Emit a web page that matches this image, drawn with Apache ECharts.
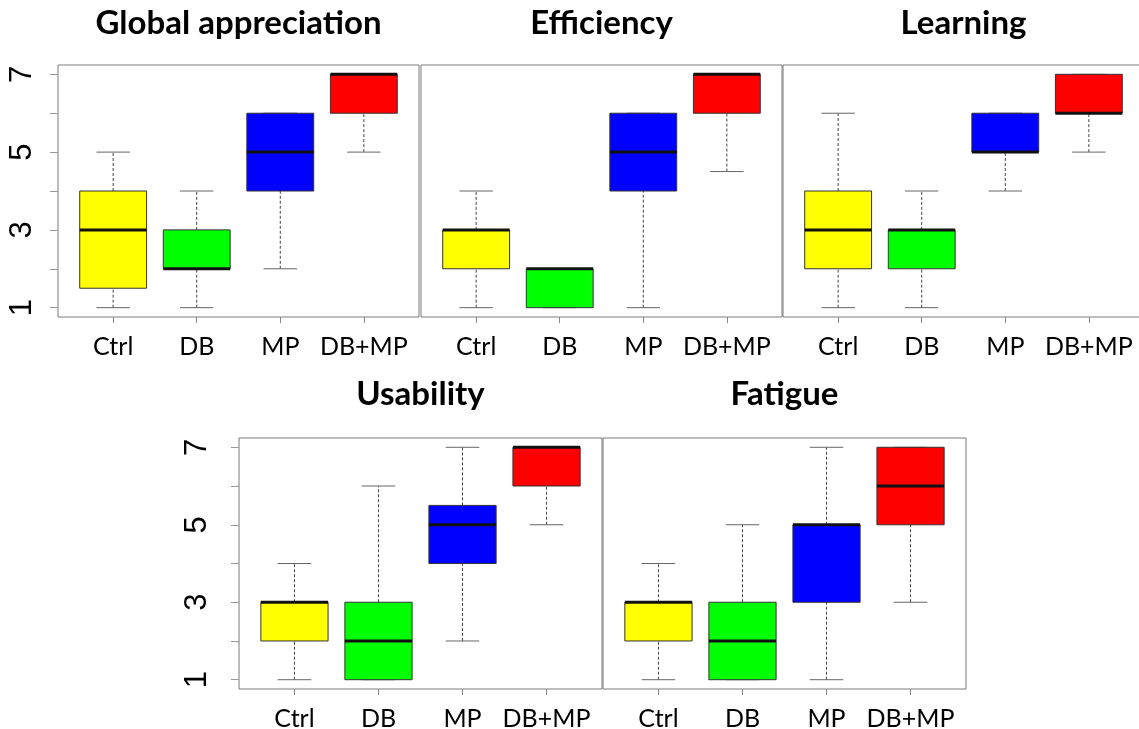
<!DOCTYPE html>
<html>
<head>
<meta charset="utf-8">
<script src="https://cdn.jsdelivr.net/npm/echarts@6/dist/echarts.min.js"></script>
<style>
html, body { margin: 0; padding: 0; background: #fff; }
#chart { width: 1139px; height: 729px; }
</style>
</head>
<body>
<div id="chart"></div>
<script>
// groups on the x axis and their box colours
var groups = ['Ctrl', 'DB', 'MP', 'DB+MP'];
var boxColors = ['#ffff00', '#00ff00', '#0000ff', '#ff0000'];
var titles = ['Global appreciation', 'Efficiency', 'Learning', 'Usability', 'Fatigue'];

// each row: [min, q1, median, q3, max] for Ctrl, DB, MP, DB+MP
var globalAppreciation = [[1, 1.5, 3, 4, 5], [1, 2, 2, 3, 4], [2, 4, 5, 6, 6], [5, 6, 7, 7, 7]];
var efficiency = [[1, 2, 3, 3, 4], [1, 1, 2, 2, 2], [1, 4, 5, 6, 6], [4.5, 6, 7, 7, 7]];
var learning = [[1, 2, 3, 4, 6], [1, 2, 3, 3, 4], [4, 5, 5, 6, 6], [5, 6, 6, 7, 7]];
var usability = [[1, 2, 3, 3, 4], [1, 1, 2, 3, 6], [2, 4, 5, 5.5, 7], [5, 6, 7, 7, 7]];
var fatigue = [[1, 2, 3, 3, 4], [1, 1, 2, 3, 5], [1, 3, 5, 5, 7], [3, 5, 6, 7, 7]];

// axis ticks
var xTicks = [1, 2, 3, 4];
var yTicks = [1, 2, 3, 4, 5, 6, 7];
var yLabels = [1, 3, 5, 7];

var panelData = [globalAppreciation, efficiency, learning, usability, fatigue];

// where each panel sits
var panels = [
    { left: 58, top: 65, width: 361, height: 252, labels: true, margin: 20, titleTop: 7 },
    { left: 421, top: 65, width: 361, height: 252, labels: false, margin: 20, titleTop: 7 },
    { left: 783, top: 65, width: 361, height: 252, labels: false, margin: 20, titleTop: 7 },
    { left: 239, top: 438, width: 363, height: 251, labels: true, margin: 26, titleTop: 378 },
    { left: 603, top: 438, width: 363, height: 251, labels: false, margin: 26, titleTop: 378 }
];

// R style box: dashed whiskers, caps, filled box, thick median
var renderBox = function (params, api) {
    var x = api.value(0);
    var pMin = api.coord([x, api.value(1)]);
    var pQ1 = api.coord([x, api.value(2)]);
    var pMed = api.coord([x, api.value(3)]);
    var pQ3 = api.coord([x, api.value(4)]);
    var pMax = api.coord([x, api.value(5)]);
    var half = api.size([0.4, 0])[0];
    var capHalf = api.size([0.2, 0])[0];
    var cx = pMed[0];
    var whisker = { stroke: '#444', lineWidth: 1, lineDash: [3, 2] };
    var cap = { stroke: '#666', lineWidth: 1 };
    return {
        type: 'group',
        children: [
            { type: 'line', shape: { x1: cx, y1: pMin[1], x2: cx, y2: pQ1[1] }, style: whisker },
            { type: 'line', shape: { x1: cx, y1: pQ3[1], x2: cx, y2: pMax[1] }, style: whisker },
            { type: 'line', shape: { x1: cx - capHalf, y1: pMin[1], x2: cx + capHalf, y2: pMin[1] }, style: cap },
            { type: 'line', shape: { x1: cx - capHalf, y1: pMax[1], x2: cx + capHalf, y2: pMax[1] }, style: cap },
            {
                type: 'rect',
                shape: { x: cx - half, y: pQ3[1], width: half * 2, height: pQ1[1] - pQ3[1] },
                style: { fill: boxColors[api.value(6)], stroke: '#333', lineWidth: 1 }
            },
            { type: 'line', shape: { x1: cx - half, y1: pMed[1], x2: cx + half, y2: pMed[1] }, style: { stroke: '#111', lineWidth: 3 } }
        ]
    };
};

var grid = [], xAxis = [], yAxis = [], series = [], title = [];
panels.forEach(function (p, k) {
    grid.push({
        left: p.left, top: p.top, width: p.width, height: p.height,
        show: true, borderColor: '#7a7a7a', borderWidth: 1,
        containLabel: false, outerBoundsMode: 'none'
    });
    xAxis.push({
        type: 'value', gridIndex: k, min: 0.34, max: 4.66,
        axisLine: { show: false },
        splitLine: { show: false },
        axisTick: { show: true, length: 6, customValues: xTicks, lineStyle: { color: '#888' } },
        axisLabel: {
            customValues: xTicks, margin: 17,
            fontFamily: 'Lato', fontSize: 25, color: '#000',
            formatter: function (v) { return groups[Math.round(v) - 1]; }
        }
    });
    yAxis.push({
        type: 'value', gridIndex: k, min: 0.76, max: 7.24,
        axisLine: { show: false },
        splitLine: { show: false },
        axisTick: { show: p.labels, length: 8, customValues: yTicks, lineStyle: { color: '#999' } },
        axisLabel: {
            show: p.labels, customValues: yLabels, rotate: 90, margin: p.margin,
            fontFamily: 'Liberation Sans', fontSize: 31, color: '#000'
        }
    });
    var rows = panelData[k].map(function (d, i) {
        return [i + 1, d[0], d[1], d[2], d[3], d[4], i];
    });
    series.push({
        type: 'custom',
        name: titles[k],
        xAxisIndex: k, yAxisIndex: k,
        renderItem: renderBox,
        encode: { x: 0, y: [1, 2, 3, 4, 5] },
        data: rows
    });
    title.push({
        text: titles[k],
        left: p.left + p.width / 2, top: p.titleTop,
        textAlign: 'center', padding: 0,
        textStyle: { fontFamily: 'Lato', fontWeight: 'bold', fontSize: 33, color: '#000' }
    });
});

var myChart = echarts.init(document.getElementById('chart'));
myChart.setOption({
    animation: false,
    backgroundColor: '#fff',
    title: title,
    grid: grid,
    xAxis: xAxis,
    yAxis: yAxis,
    series: series
});
</script>
</body>
</html>
